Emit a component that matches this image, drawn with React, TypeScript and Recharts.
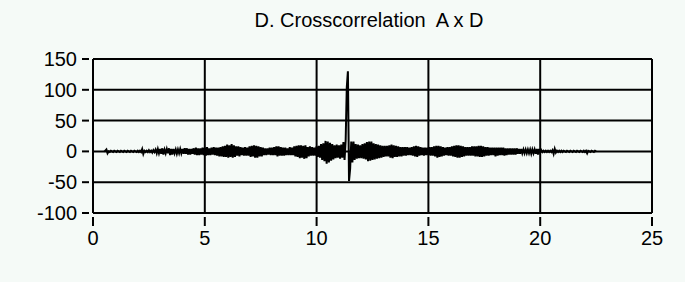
import { LineChart, Line, XAxis, YAxis, CartesianGrid } from "recharts";

const title = "D. Crosscorrelation  A x D";
const xTicks = [0, 5, 10, 15, 20, 25];
const yTicks = [-100, -50, 0, 50, 100, 150];

// lag of the first sample and sample spacing
const lagStart = 0.5;
const lagStep = 0.05;

// crosscorrelation samples, one row per unit of lag
const corrValues = [
  0, 1, 3, -3, 0, -1, 1, 0, -1, 1,
  0, -1, 1, 0, -1, 1, 0, -1, 1, 0, -1, 1, 0, -1, 1, 0, -1, 1, 0, -1,
  1, -1, 1, -1, 4, -4, 1, -1, 1, -1, 2, -1, 1, -2, 2, -1, 3, -3, 4, -3,
  4, -4, 5, -5, 3, -3, 4, -3, 5, -6, 4, -5, 4, -3, 3, -4, 3, -3, 4, -3,
  4, -4, 5, -4, 5, -5, 4, -5, 4, -4, 5, -5, 6, -6, 5, -6, 5, -5, 6, -6,
  6, -7, 7, -6, 5, -6, 6, -5, 7, -6, 6, -7, 6, -8, 7, -8, 8, -9, 9, -9,
  11, -10, 10, -9, 12, -10, 10, -9, 8, -7, 8, -8, 7, -6, 6, -7, 7, -7, 6, -7,
  8, -9, 9, -8, 10, -10, 9, -10, 8, -8, 7, -8, 6, -6, 5, -6, 5, -5, 6, -6,
  6, -6, 7, -6, 8, -8, 8, -7, 7, -7, 6, -7, 6, -6, 5, -6, 7, -6, 6, -6,
  8, -8, 9, -9, 10, -11, 10, -10, 9, -12, 10, -11, 7, -8, 8, -7, 7, -7, 6, -7,
  8, -9, 9, -10, 12, -14, 13, -16, 17, -20, 16, -18, 14, -15, 12, -13, 10, -11, 11, -10,
  10, -12, 11, -10, 15, -14, 18, 104, 130, -48, -28, 16, -18, 16, -14, 12, -12, 11, -11, 10,
  -11, 12, -12, 13, -13, 15, -16, 16, -15, 16, -14, 13, -13, 12, -12, 11, -11, 10, -10, 9,
  -9, 9, -8, 9, -8, 10, -10, 11, -11, 10, -9, 9, -9, 8, -8, 7, -8, 7, -7, 7,
  -7, 7, -6, 6, -6, 7, -7, 8, -8, 9, -9, 8, -7, 7, -6, 6, -7, 6, -6, 6,
  -6, 7, -7, 7, -7, 8, -8, 9, -10, 9, -9, 8, -8, 7, -7, 6, -6, 7, -7, 7,
  -7, 8, -8, 9, -9, 10, -10, 10, -10, 9, -9, 8, -8, 7, -7, 7, -7, 7, -7, 8,
  -7, 8, -8, 8, -8, 9, -9, 9, -9, 8, -8, 7, -7, 7, -7, 6, -6, 6, -6, 6,
  -8, 6, -7, 6, -6, 6, -6, 6, -7, 5, -6, 5, -5, 5, -5, 5, -5, 5, -5, 5,
  -4, 4, -4, 4, -3, 3, -3, 3, -3, 3, -3, 3, -4, 3, -3, 3, -4, 4, -5, 4,
  -2, 2, -1, 1, -1, 1, -1, 1, -1, 1, -1, 2, -4, 4, -2, 1, -1, 1, -1, 1,
  -1, 1, 0, -1, 1, 0, -1, 1, 0, -1, 1, 0, -1, 1, 0, -1, 1, 0, -1, 1,
  -1, 1, -3, 1, 0, -1, 1, 0, -1, 1, 0,
];

const data = corrValues.map((v, i) => ({
  lag: +(lagStart + i * lagStep).toFixed(2),
  value: v,
}));

const font = "'Liberation Sans', Arial, sans-serif";

const YTick = ({ x, y, payload }: any) => (
  <g>
    <line x1={x - 11} y1={y} x2={x - 4} y2={y} stroke="#000" strokeWidth={2} />
    <text x={x - 16} y={y} textAnchor="end" dominantBaseline="central" fontSize={20} fontFamily={font} fill="#000">
      {payload.value}
    </text>
  </g>
);

const XTick = ({ x, y, payload }: any) => (
  <g>
    <line x1={x} y1={y + 4} x2={x} y2={y + 13} stroke="#000" strokeWidth={2} />
    <text x={x} y={y + 25} textAnchor="middle" dominantBaseline="central" fontSize={20} fontFamily={font} fill="#000">
      {payload.value}
    </text>
  </g>
);

export default function App() {
  return (
    <div style={{ position: "absolute", left: 0, top: 0, width: 685, height: 282, background: "#f5faf7" }}>
      <div
        style={{
          position: "absolute",
          left: 0,
          top: 9,
          width: 738,
          textAlign: "center",
          fontFamily: font,
          fontSize: 20,
          lineHeight: "22px",
          color: "#000",
          whiteSpace: "pre",
        }}
      >
        {title}
      </div>
      <LineChart width={685} height={282} data={data} margin={{ top: 59, right: 33, bottom: 0, left: 0 }}>
        <CartesianGrid stroke="#000" strokeWidth={2} />
        <XAxis
          dataKey="lag"
          type="number"
          domain={[0, 25]}
          ticks={xTicks}
          height={69}
          axisLine={false}
          tickLine={false}
          tickSize={0}
          tickMargin={0}
          tick={<XTick />}
          interval={0}
        />
        <YAxis
          type="number"
          domain={[-100, 150]}
          ticks={yTicks}
          width={93}
          axisLine={false}
          tickLine={false}
          tickSize={0}
          tickMargin={0}
          tick={<YTick />}
          interval={0}
        />
        <Line
          dataKey="value"
          type="linear"
          stroke="#000"
          strokeWidth={2}
          dot={false}
          isAnimationActive={false}
        />
      </LineChart>
    </div>
  );
}
